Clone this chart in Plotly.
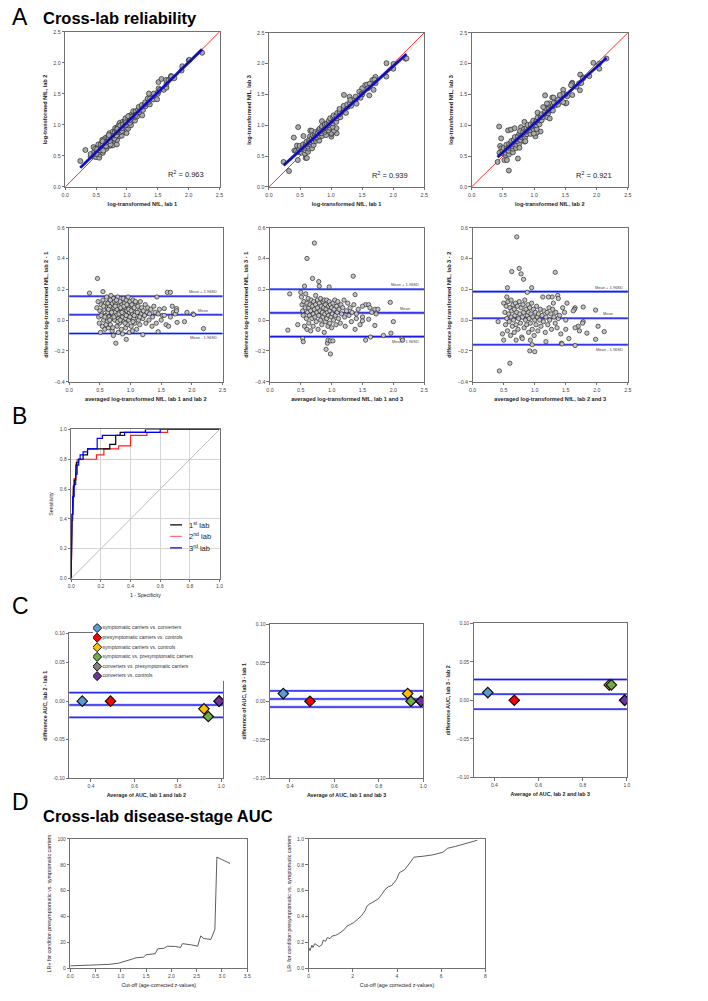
import numpy as np
import plotly.graph_objects as go

W, H = 708, 1001
FONT = "Liberation Sans, Arial, Helvetica, sans-serif"

# ---------------- DATA ----------------
# Panel A: Bland-Altman points (average, difference) per lab pair
avg_12 = [
    0.33, 0.46, 0.55, 0.45, 0.47, 0.48, 0.49, 0.50, 0.51, 0.52,
    0.53, 0.54, 0.55, 0.56, 0.57, 0.58, 0.59, 0.60, 0.61, 0.62,
    0.62, 0.63, 0.64, 0.65, 0.65, 0.66, 0.67, 0.68, 0.68, 0.69,
    0.70, 0.70, 0.71, 0.72, 0.72, 0.73, 0.74, 0.74, 0.75, 0.76,
    0.76, 0.77, 0.78, 0.78, 0.79, 0.80, 0.80, 0.81, 0.82, 0.82,
    0.83, 0.84, 0.85, 0.85, 0.86, 0.87, 0.87, 0.88, 0.88, 0.89,
    0.90, 0.90, 0.91, 0.92, 0.92, 0.93, 0.93, 0.94, 0.95, 0.95,
    0.96, 0.96, 0.97, 0.98, 0.98, 0.99, 1.00, 1.00, 1.01, 1.02,
    1.03, 1.03, 1.04, 1.05, 1.06, 1.07, 1.08, 1.09, 1.10, 1.10,
    1.12, 1.13, 1.14, 1.15, 1.16, 1.17, 1.18, 1.20, 1.20, 1.21,
    1.23, 1.24, 1.25, 1.27, 1.28, 1.30, 1.31, 1.33, 1.35, 1.36,
    1.38, 1.40, 1.42, 1.43, 1.45, 1.45, 1.47, 1.50, 1.52, 1.55,
    1.55, 1.58, 1.60, 1.62, 1.65, 1.65, 1.68, 1.70, 1.73, 1.75,
    1.75, 1.76, 1.88, 1.92, 2.02, 2.03, 2.19,
    0.52, 0.56, 0.58, 0.60, 0.63, 0.64, 0.66, 0.67, 0.69, 0.71,
    0.73, 0.75, 0.77, 0.79, 0.81, 0.83, 0.84, 0.86, 0.89, 0.91,
    0.93, 0.94, 0.97, 0.99, 1.01, 1.04, 1.06, 1.08, 1.11, 1.15,
]
diff_12 = [
    0.175, 0.27, 0.185, 0.08, 0.12, 0.02, -0.02, 0.06, -0.08, 0.10,
    0.04, -0.04, 0.13, 0.00, 0.07, -0.06, 0.11, 0.03, 0.15, -0.01,
    0.08, 0.05, -0.05, 0.12, 0.02, 0.09, -0.03, 0.16, 0.06, 0.01,
    0.11, -0.07, 0.04, 0.14, -0.10, 0.08, 0.00, 0.12, 0.05, -0.15,
    0.10, 0.03, -0.04, 0.07, 0.15, 0.01, -0.08, 0.09, 0.05, -0.02,
    0.12, 0.03, 0.07, -0.06, 0.10, 0.02, -0.09, 0.14, 0.06, -0.01,
    0.04, 0.11, 0.08, -0.05, 0.01, -0.125, 0.13, 0.06, 0.03, -0.03,
    0.15, 0.09, 0.00, 0.05, -0.08, 0.12, 0.07, 0.02, -0.04, 0.10,
    0.04, -0.07, 0.13, 0.01, 0.08, -0.02, 0.05, 0.11, -0.06, 0.03,
    0.09, 0.00, 0.06, -0.03, 0.12, 0.04, 0.08, -0.095, 0.01, 0.06,
    0.03, 0.10, -0.02, 0.05, 0.08, 0.00, 0.04, 0.07, -0.04, 0.02,
    0.09, 0.05, -0.02, 0.15, -0.075, 0.04, 0.07, 0.00, 0.03, 0.075,
    0.03, -0.03, 0.18, -0.04, 0.18, 0.02, 0.09, 0.05, 0.04, 0.075,
    0.06, -0.015, -0.01, 0.05, 0.04, 0.035, -0.055,
    0.03, 0.09, 0.02, -0.03, 0.11, 0.07, 0.00, 0.13, 0.05, -0.05,
    0.02, 0.09, 0.13, -0.01, 0.04, 0.00, 0.08, 0.05, 0.09, -0.02,
    0.03, 0.10, 0.07, 0.02, 0.06, -0.01, 0.03, 0.12, 0.05, 0.02,
]
avg_13 = [
    0.72, 0.60, 0.69, 0.79, 0.80, 0.96, 0.56, 1.35, 1.38, 0.32,
    0.29, 0.53, 0.54, 0.98, 0.91, 0.93, 0.94, 0.98, 1.02, 1.55,
    1.63, 1.84, 1.96, 2.14, 2.15, 1.95, 2.00, 1.55, 1.60, 1.62,
    1.70, 1.75, 1.72, 1.70, 1.65, 1.50, 1.50, 1.50, 1.40, 1.38,
    1.60, 0.45, 0.50, 0.51, 0.52, 0.53, 0.54, 0.55, 0.56, 0.57,
    0.58, 0.59, 0.60, 0.60, 0.61, 0.62, 0.63, 0.63, 0.64, 0.65,
    0.66, 0.66, 0.67, 0.68, 0.69, 0.70, 0.70, 0.71, 0.72, 0.73,
    0.74, 0.74, 0.75, 0.76, 0.77, 0.77, 0.78, 0.79, 0.80, 0.81,
    0.82, 0.82, 0.83, 0.84, 0.85, 0.86, 0.86, 0.87, 0.88, 0.88,
    0.89, 0.90, 0.90, 0.91, 0.92, 0.92, 0.93, 0.94, 0.95, 0.95,
    0.96, 0.97, 0.97, 0.98, 0.99, 1.00, 1.00, 1.01, 1.02, 1.03,
    1.04, 1.05, 1.06, 1.07, 1.08, 1.09, 1.10, 1.11, 1.12, 1.14,
    1.15, 1.16, 1.18, 1.20, 1.21, 1.22, 1.24, 1.26, 1.28, 1.30,
    1.32, 1.33, 1.36, 1.40, 1.43, 1.46,
]
diff_13 = [
    0.50, 0.40, 0.27, 0.25, 0.22, 0.215, 0.22, 0.285, 0.165, 0.17,
    -0.065, -0.12, -0.14, -0.22, -0.19, -0.15, -0.13, -0.135, -0.135, -0.13,
    -0.11, -0.10, -0.085, -0.12, -0.13, 0.115, -0.01, 0.10, 0.10, 0.08,
    0.07, 0.07, 0.04, -0.035, 0.05, 0.09, 0.02, -0.005, 0.01, -0.06,
    0.005, -0.03, 0.18, 0.15, 0.10, 0.06, 0.03, 0.12, -0.04, 0.08,
    0.17, 0.01, 0.11, -0.06, 0.05, 0.14, 0.08, -0.02, 0.03, 0.10,
    -0.07, 0.06, 0.13, 0.01, 0.09, 0.04, -0.04, 0.12, 0.07, 0.02,
    0.16, 0.10, -0.01, 0.05, 0.13, 0.08, -0.06, 0.03, 0.11, 0.06,
    0.00, 0.14, 0.09, -0.03, 0.05, 0.12, 0.02, 0.08, -0.08, 0.13,
    0.04, 0.10, -0.01, 0.07, 0.01, 0.13, 0.05, -0.04, 0.09, 0.03,
    0.12, -0.02, 0.06, 0.10, 0.02, 0.08, -0.05, 0.04, 0.11, 0.00,
    0.07, 0.13, 0.03, -0.03, 0.09, 0.05, 0.12, 0.01, 0.07, -0.02,
    0.10, 0.04, 0.08, 0.13, 0.02, -0.04, 0.06, 0.11, 0.03, 0.08,
    -0.01, 0.05, 0.10, 0.04, 0.07, -0.03,
]
avg_23 = [
    0.71, 0.75, 0.63, 0.78, 0.82, 1.33, 0.56, 0.95, 0.88, 1.37,
    1.38, 0.43, 0.60, 0.92, 1.00, 0.96, 1.43, 1.44, 1.65, 1.98,
    2.02, 2.12, 1.98, 1.78, 1.65, 1.64, 1.62, 1.78, 1.77, 1.70,
    1.72, 1.84, 1.65, 1.55, 1.50, 1.50, 1.52, 1.48, 1.45, 0.41,
    0.48, 0.50, 0.50, 0.55, 0.52, 0.53, 0.54, 0.55, 0.56, 0.57,
    0.58, 0.59, 0.60, 0.61, 0.62, 0.62, 0.63, 0.64, 0.65, 0.66,
    0.67, 0.67, 0.68, 0.69, 0.70, 0.71, 0.72, 0.73, 0.74, 0.75,
    0.76, 0.77, 0.78, 0.79, 0.80, 0.81, 0.82, 0.83, 0.84, 0.85,
    0.86, 0.87, 0.88, 0.89, 0.90, 0.90, 0.91, 0.92, 0.93, 0.94,
    0.95, 0.96, 0.97, 0.98, 0.99, 1.00, 1.01, 1.02, 1.03, 1.04,
    1.05, 1.06, 1.08, 1.09, 1.10, 1.12, 1.13, 1.14, 1.15, 1.17,
    1.18, 1.20, 1.21, 1.23, 1.24, 1.26, 1.27, 1.29, 1.30, 1.31,
    1.33, 1.34, 1.36, 1.38, 1.40, 1.42, 1.28, 1.22, 1.18, 0.93,
    0.80, 0.70,
]
diff_23 = [
    0.54, 0.335, 0.315, 0.30, 0.265, 0.31, 0.21, 0.21, 0.18, 0.16,
    0.14, -0.33, -0.28, -0.20, -0.205, -0.16, -0.15, -0.155, -0.165, -0.125,
    -0.04, -0.075, 0.065, 0.085, 0.08, 0.07, 0.06, -0.01, -0.02, -0.04,
    -0.07, -0.085, -0.05, -0.12, -0.06, 0.00, 0.11, 0.05, 0.08, -0.01,
    -0.09, -0.13, 0.11, 0.15, 0.05, -0.03, 0.09, 0.01, -0.07, 0.12,
    0.04, -0.01, 0.08, -0.10, 0.02, 0.13, 0.06, -0.04, 0.10, 0.00,
    -0.08, 0.07, 0.03, 0.11, -0.03, 0.05, 0.09, -0.06, 0.01, 0.12,
    0.04, -0.02, 0.08, -0.11, 0.02, 0.10, 0.05, -0.05, 0.13, 0.00,
    0.07, -0.03, 0.03, 0.10, -0.08, 0.05, 0.01, 0.08, -0.02, 0.04,
    0.11, -0.06, 0.02, 0.07, -0.10, 0.00, 0.05, -0.03, 0.09, 0.02,
    -0.07, 0.04, 0.00, 0.07, -0.04, 0.03, 0.15, -0.01, 0.06, -0.08,
    0.02, 0.05, -0.03, 0.08, 0.00, 0.04, -0.06, 0.07, 0.11, 0.02,
    -0.02, 0.05, -0.05, 0.01, 0.03, -0.09, 0.15, 0.15, -0.14, -0.13,
    -0.12, -0.13,
]
# Bland-Altman reference lines: mean + 1.96SD, mean, mean - 1.96SD
ba12_lines = [0.155, 0.035, -0.087]
ba13_lines = [0.200, 0.047, -0.107]
ba23_lines = [0.185, 0.012, -0.160]
ba_line_labels = ["Mean + 1.96SD", "Mean", "Mean - 1.96SD"]
r2_values = ["0.963", "0.939", "0.921"]
identity = [0.0, 2.5]

# Panel B: ROC curves (1 - specificity, sensitivity)
roc_fpr_1 = [0, 0, 0.005, 0.005, 0.01, 0.01, 0.015, 0.015, 0.02, 0.02,
             0.03, 0.03, 0.035, 0.035, 0.05, 0.05, 0.08, 0.08, 0.11, 0.11,
             0.26, 0.26, 0.30, 0.30, 0.33, 0.33, 0.50, 0.50, 1.0]
roc_tpr_1 = [0, 0.26, 0.26, 0.43, 0.43, 0.50, 0.50, 0.62, 0.62, 0.66,
             0.66, 0.75, 0.75, 0.78, 0.78, 0.80, 0.80, 0.83, 0.83, 0.87,
             0.87, 0.90, 0.90, 0.96, 0.96, 0.98, 0.98, 1.0, 1.0]
roc_fpr_2 = [0, 0, 0.005, 0.005, 0.01, 0.01, 0.015, 0.015, 0.02, 0.02,
             0.03, 0.03, 0.04, 0.04, 0.17, 0.17, 0.22, 0.22, 0.32, 0.32,
             0.40, 0.40, 0.51, 0.51, 0.65, 0.65, 1.0]
roc_tpr_2 = [0, 0.30, 0.30, 0.39, 0.39, 0.54, 0.54, 0.62, 0.62, 0.67,
             0.67, 0.76, 0.76, 0.80, 0.80, 0.83, 0.83, 0.87, 0.87, 0.89,
             0.89, 0.96, 0.96, 0.98, 0.98, 1.0, 1.0]
roc_fpr_3 = [0, 0, 0.005, 0.005, 0.01, 0.01, 0.02, 0.02, 0.03, 0.03,
             0.04, 0.04, 0.05, 0.05, 0.06, 0.06, 0.08, 0.08, 0.11, 0.11,
             0.175, 0.175, 0.21, 0.21, 0.36, 0.36, 0.60, 0.60, 1.0]
roc_tpr_3 = [0, 0.26, 0.26, 0.43, 0.43, 0.55, 0.55, 0.63, 0.63, 0.70,
             0.70, 0.76, 0.76, 0.80, 0.80, 0.83, 0.83, 0.85, 0.85, 0.87,
             0.87, 0.94, 0.94, 0.96, 0.96, 0.98, 0.98, 1.0, 1.0]
roc_labels = ["1<sup>st</sup> lab", "2<sup>nd</sup> lab", "3<sup>rd</sup> lab"]
chance = [0.0, 1.0]

# Panel C: AUC agreement
auc_categories = ["symptomatic carriers vs. converters",
                  "presymptomatic carriers vs. controls",
                  "symptomatic carriers vs. controls",
                  "symptomatic vs. presymptomatic carriers",
                  "converters vs. presymptomatic carriers",
                  "converters vs. controls"]
auc_avg_12 = [0.36, 0.49, 0.92, 0.94, 0.99, 0.99]
auc_diff_12 = [0.00, 0.00, -0.01, -0.02, 0.00, 0.00]
auc_avg_13 = [0.37, 0.49, 0.93, 0.945, 0.99, 0.99]
auc_diff_13 = [0.01, 0.00, 0.01, 0.00, 0.00, 0.00]
auc_avg_23 = [0.37, 0.49, 0.92, 0.93, 0.99, 0.99]
auc_diff_23 = [0.01, 0.00, 0.02, 0.02, 0.00, 0.00]
c12_lines = [0.011, -0.005, -0.021]
c13_lines = [0.0135, 0.003, -0.0075]
c23_lines = [0.027, 0.008, -0.0115]

# Panel D: likelihood ratios vs cut-off
lr_pos_cutoff = [0.00, 0.40, 0.75, 0.95, 1.05, 1.18, 1.30, 1.45, 1.50, 1.68,
                 1.73, 1.85, 1.92, 2.08, 2.18, 2.22, 2.40, 2.52, 2.58, 2.64,
                 2.78, 2.86, 2.90, 3.16]
lr_pos = [1.8, 2.2, 2.9, 3.8, 4.8, 6.5, 8.0, 8.6, 10.4, 11.2,
          15.0, 15.4, 17.0, 16.8, 16.0, 19.0, 18.0, 17.0, 25.0, 23.0,
          22.2, 30.0, 86.0, 81.0]
lr_neg_cutoff = [0.00, 0.07, 0.15, 0.20, 0.28, 0.36, 0.48, 0.60, 0.67, 0.77,
                 0.85, 0.97, 1.07, 1.22, 1.37, 1.60, 1.74, 1.89, 2.04, 2.22,
                 2.41, 2.56, 2.64, 2.76, 2.94, 3.16, 3.31, 3.46, 3.61, 3.76,
                 3.98, 4.10, 4.35, 4.58, 4.77, 5.17, 5.62, 6.07, 6.29, 6.66,
                 6.96, 7.26, 7.63]
lr_neg = [0.16, 0.136, 0.177, 0.16, 0.19, 0.18, 0.167, 0.18, 0.218, 0.208,
          0.236, 0.229, 0.249, 0.254, 0.267, 0.296, 0.326, 0.339, 0.352, 0.378,
          0.409, 0.445, 0.48, 0.496, 0.512, 0.537, 0.571, 0.609, 0.63, 0.64,
          0.686, 0.738, 0.763, 0.82, 0.859, 0.866, 0.877, 0.897, 0.928, 0.943,
          0.959, 0.974, 0.99]

# ---------------- STYLE / LAYOUT ----------------
CAT_COLORS = ["#5b9bd5", "#ff0000", "#ffc000", "#70ad47", "#808080", "#7030a0"]
AX_COLOR = "#707070"


def dom_x(a, b):
    return [a / W, b / W]


def dom_y(a, b):
    return [1 - b / H, 1 - a / H]


layout = dict(width=W, height=H, autosize=False, margin=dict(l=0, r=0, t=0, b=0),
              paper_bgcolor="white", plot_bgcolor="white", showlegend=False,
              font=dict(family=FONT, color="#333"), shapes=[], annotations=[])


def add_axes(i, xd, yd, xr, yr, xdt, ydt, xfmt, yfmt, xt, yt, bold=True,
             tsize=5.3, ttsize=5.6, grid=False, xstand=5, ystand=5,
             ytickvals=None, yticktext=None, xtick0=0, ytick0=0):
    s = "" if i == 1 else str(i)
    wrap = (lambda t: f"<b>{t}</b>") if bold else (lambda t: t)
    common = dict(showline=True, linecolor=AX_COLOR, linewidth=1, mirror=True,
                  ticks="outside", ticklen=2.5, tickwidth=1, tickcolor=AX_COLOR,
                  tickfont=dict(size=tsize, color="#444", family=FONT),
                  showgrid=grid, gridcolor="#d6d6d6", gridwidth=1,
                  zeroline=False, fixedrange=True)
    layout["xaxis" + s] = dict(domain=dom_x(*xd), range=xr, dtick=xdt, tick0=xtick0,
                               tickformat=xfmt, anchor="y" + s,
                               title=dict(text=wrap(xt), standoff=xstand,
                                          font=dict(size=ttsize, color="#222", family=FONT)),
                               **common)
    ya = dict(domain=dom_y(*yd), range=yr, dtick=ydt, tick0=ytick0, tickformat=yfmt,
              anchor="x" + s,
              title=dict(text=wrap(yt), standoff=ystand,
                         font=dict(size=ttsize, color="#222", family=FONT)),
              **common)
    if ytickvals is not None:
        ya["tickmode"] = "array"
        ya["tickvals"] = ytickvals
        ya["ticktext"] = yticktext
    layout["yaxis" + s] = ya
    return ("x" + s, "y" + s)


fig = go.Figure()

# ---- Panel A: scatter (lab vs lab) and Bland-Altman ----
pairs = [(avg_12, diff_12, "lab 1", "lab 2", ba12_lines, "lab 2 - 1", "lab 1 and lab 2"),
         (avg_13, diff_13, "lab 1", "lab 3", ba13_lines, "lab 3 - 1", "lab 1 and 3"),
         (avg_23, diff_23, "lab 2", "lab 3", ba23_lines, "lab 3 - 2", "lab 2 and 3")]
sc_x = [(62, 218), (268, 425), (473, 631)]
sc_y = [(29, 185), (30, 185), (30, 185)]
ba_x = [(66, 221), (269, 425), (474, 631)]
ba_y = (226, 381)

for k, (av, df, la, lb, lines, dlab, alab) in enumerate(pairs):
    av = np.array(av)
    df = np.array(df)
    xa = av - df / 2.0
    yb = av + df / 2.0
    xr, yr = add_axes(k + 1, sc_x[k], sc_y[k], [0, 2.5], [0, 2.5], 0.5, 0.5, ".1f", ".1f",
                      f"log-transformed NfL, {la}", f"log-transformed NfL, {lb}")
    fig.add_trace(go.Scatter(x=identity, y=identity, mode="lines",
                             line=dict(color="#ff2a2a", width=1), xaxis=xr, yaxis=yr))
    fig.add_trace(go.Scatter(x=xa, y=yb, mode="markers", xaxis=xr, yaxis=yr,
                             marker=dict(size=5, color="#ababab",
                                         line=dict(color="#2a2a2a", width=0.7))))
    slope, icpt = np.polyfit(xa, yb, 1)
    fx = np.array([xa.min(), xa.max()])
    fig.add_trace(go.Scatter(x=fx, y=slope * fx + icpt, mode="lines",
                             line=dict(color="#1a1ad8", width=3), xaxis=xr, yaxis=yr))
    fig.add_trace(go.Scatter(x=fx, y=slope * fx + icpt, mode="lines",
                             line=dict(color="#000000", width=0.6), xaxis=xr, yaxis=yr))
    layout["annotations"].append(dict(x=1.95, y=0.2, xref=xr, yref=yr, showarrow=False,
                                      text=f"R<sup>2</sup> = {r2_values[k]}",
                                      font=dict(size=7.5, color="#222", family=FONT)))

    xr2, yr2 = add_axes(k + 4, ba_x[k], ba_y, [0, 2.5], [-0.4, 0.6], 0.5, 0.2, ".1f", ".1f",
                        f"averaged log-transformed NfL, {alab}",
                        f"difference log-transformed NfL, {dlab}", ytick0=-0.4)
    for j, v in enumerate(lines):
        layout["shapes"].append(dict(type="line", xref=f"{xr2} domain", yref=yr2,
                                     x0=0, x1=1, y0=v, y1=v,
                                     line=dict(color="#8a94ff", width=2.6), layer="below"))
        layout["shapes"].append(dict(type="line", xref=f"{xr2} domain", yref=yr2,
                                     x0=0, x1=1, y0=v, y1=v,
                                     line=dict(color="#1a1ae6", width=1.1), layer="below"))
        layout["annotations"].append(dict(x=2.45 if j != 1 else 2.3, y=v, xref=xr2, yref=yr2,
                                          xanchor="right", yanchor="bottom" if j < 2 else "top",
                                          showarrow=False, text=ba_line_labels[j],
                                          font=dict(size=4, color="#444", family=FONT)))
    fig.add_trace(go.Scatter(x=av, y=df, mode="markers", xaxis=xr2, yaxis=yr2,
                             marker=dict(size=4.3, color="#c4c4c4",
                                         line=dict(color="#2a2a2a", width=0.7))))

# ---- Panel B: ROC ----
xr, yr = add_axes(7, (68, 218), (429, 579), [0, 1.0], [0, 1.0], 0.2, 0.2, ".1f", ".1f",
                  "1 - Specificity", "Sensitivity", bold=False, grid=True,
                  ttsize=5.2, tsize=5.0)
fig.add_trace(go.Scatter(x=chance, y=chance, mode="lines", xaxis=xr, yaxis=yr,
                         line=dict(color="#bdbdbd", width=1)))
roc_sets = [(roc_fpr_2, roc_tpr_2, "#ff2020"), (roc_fpr_1, roc_tpr_1, "#000000"),
            (roc_fpr_3, roc_tpr_3, "#0000ff")]
for f, t, c in roc_sets:
    fig.add_trace(go.Scatter(x=f, y=t, mode="lines", xaxis=xr, yaxis=yr,
                             line=dict(color=c, width=1.2)))
leg_cols = ["#000000", "#ff7070", "#0000ff"]
for j, (lab, col) in enumerate(zip(roc_labels, leg_cols)):
    yy = 0.36 - j * 0.077
    layout["shapes"].append(dict(type="line", xref=xr, yref=yr, x0=0.667, x1=0.747,
                                 y0=yy, y1=yy, line=dict(color=col, width=1.3)))
    layout["annotations"].append(dict(x=0.78, y=yy, xref=xr, yref=yr, xanchor="left",
                                      yanchor="middle", showarrow=False, text=lab,
                                      font=dict(size=7.5, color="#222222", family=FONT)))

# ---- Panel C: AUC Bland-Altman ----
c_sets = [(auc_avg_12, auc_diff_12, c12_lines, (66, 222), (634, 780), [0.3, 1.01],
           "Average of AUC, lab 1 and lab 2", "difference AUC, lab 2 - lab 1"),
          (auc_avg_13, auc_diff_13, c13_lines, (269, 424), (625, 780), [0.31, 1.0],
           "Average of AUC, lab 1 and lab 3", "difference of AUC, lab 3 - lab 1"),
          (auc_avg_23, auc_diff_23, c23_lines, (475, 630), (624, 779), [0.306, 1.0],
           "Average of AUC, lab 2 and lab 3", "difference AUC, lab 3 - lab 2")]
for k, (av, df, lines, xd, yd, xrng, xt, yt) in enumerate(c_sets):
    if k == 0:
        xr, yr = add_axes(8 + k, xd, yd, xrng, [-0.1, 0.088], 0.2, 0.05, ".1f", ".2f", xt, yt,
                          tsize=5.0, ttsize=5.3, ytickvals=[-0.1, -0.05, 0.0, 0.05, 0.088],
                          yticktext=["-0.10", "-0.05", "0.00", "0.05", "0.10"])
    else:
        xr, yr = add_axes(8 + k, xd, yd, xrng, [-0.1, 0.1], 0.2, 0.05, ".1f", ".2f", xt, yt,
                          tsize=5.0, ttsize=5.3, ytick0=-0.1)
    for v in lines:
        layout["shapes"].append(dict(type="line", xref=f"{xr} domain", yref=yr,
                                     x0=0, x1=1, y0=v, y1=v,
                                     line=dict(color="#8a8aff", width=2.4), layer="below"))
        layout["shapes"].append(dict(type="line", xref=f"{xr} domain", yref=yr,
                                     x0=0, x1=1, y0=v, y1=v,
                                     line=dict(color="#1a1ae6", width=1.0), layer="below"))
    for j in range(len(auc_categories)):
        fig.add_trace(go.Scatter(x=[av[j]], y=[df[j]], mode="markers", xaxis=xr, yaxis=yr,
                                 marker=dict(symbol="diamond", size=8, color=CAT_COLORS[j],
                                             line=dict(color="#111", width=1.2))))

# legend of panel C drawn on a hidden helper axis
layout["xaxis13"] = dict(domain=dom_x(90, 230), range=[0, 1], visible=False,
                         anchor="y13", fixedrange=True)
layout["yaxis13"] = dict(domain=dom_y(624, 682), range=[5.5, -0.5], visible=False,
                         anchor="x13", fixedrange=True)
fig.add_trace(go.Scatter(x=[0.03] * len(auc_categories), y=list(range(len(auc_categories))),
                         mode="markers+text", text=auc_categories, textposition="middle right",
                         textfont=dict(size=5, color="#333", family=FONT),
                         xaxis="x13", yaxis="y13",
                         marker=dict(symbol="diamond", size=7, color=CAT_COLORS,
                                     line=dict(color="#111", width=1))))

# ---- Panel D ----
xr, yr = add_axes(11, (67, 246), (841, 971), [0, 3.5], [0, 100], 0.5, 20, ".1f", "d",
                  "Cut-off (age-corrected z-values)",
                  "LR+ for condition presymptomatic vs. symptomatic carriers",
                  bold=False, tsize=5.0, ttsize=5.3)
fig.add_trace(go.Scatter(x=lr_pos_cutoff, y=lr_pos, mode="lines", xaxis=xr, yaxis=yr,
                         line=dict(color="#333", width=0.8)))
xr, yr = add_axes(12, (308, 487), (841, 971), [0, 8], [0, 1.0], 2, 0.2, "d", ".1f",
                  "Cut-off (age corrected z-values)",
                  "LR- for condition presymptomatic vs. symptomatic carriers",
                  bold=False, tsize=5.0, ttsize=5.3)
fig.add_trace(go.Scatter(x=lr_neg_cutoff, y=lr_neg, mode="lines", xaxis=xr, yaxis=yr,
                         line=dict(color="#333", width=0.8)))


# ---- Panel letters / headings ----
def heading(x, y, text, size, bold=False):
    layout["annotations"].append(dict(x=x / W, y=1 - y / H, xref="paper",
                                      yref="paper", xanchor="left", yanchor="middle",
                                      showarrow=False,
                                      text=f"<b>{text}</b>" if bold else text,
                                      font=dict(size=size, color="#000", family=FONT)))


heading(6, 14, "A", 23)
heading(37, 15, "Cross-lab reliability", 16.5, bold=True)
heading(6, 415, "B", 23)
heading(6, 607, "C", 23)
heading(6, 804, "D", 23)
heading(37, 818, "Cross-lab disease-stage AUC", 16.5, bold=True)

fig.update_layout(**layout)
# remove the browser's default 8px page margin so the figure fills the window exactly
fig.write_html("out.html", config={"displayModeBar": False},
               post_script="document.body.style.margin='0';document.body.style.overflow='hidden';")
